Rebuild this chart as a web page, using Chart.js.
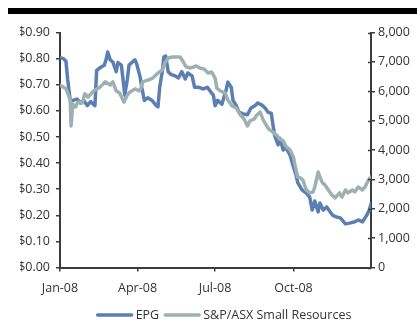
<!DOCTYPE html>
<html>
<head>
<meta charset="utf-8">
<script src="https://cdn.jsdelivr.net/npm/chart.js@4.4.1/dist/chart.umd.min.js"></script>
<style>
  html, body { margin: 0; padding: 0; background: #fff; }
  #wrap { position: relative; width: 417px; height: 320px; }
</style>
</head>
<body>
<div id="wrap"><canvas id="c" width="417" height="320"></canvas></div>
<script>
// Day of year 2008 (0 = 1 Jan) and EPG share price, A$
const epgDays = [0,4,7,9,12,15,20,24,28,32,36,41,43,47,52,54,56,59,62,66,68,72,74,76,79,81,85,88,90,94,96,99,103,108,113,115,117,120,122,124,127,130,135,139,143,147,150,155,158,163,168,173,177,180,182,185,190,195,197,201,203,207,210,215,220,224,229,232,237,241,244,248,250,252,256,258,262,265,270,274,277,279,284,289,293,296,299,303,305,309,313,317,320,325,329,335,340,346,350,355,358,360,363,365];
const epgPrice = [0.803,0.80,0.79,0.72,0.64,0.64,0.645,0.63,0.64,0.62,0.635,0.62,0.755,0.765,0.775,0.795,0.825,0.795,0.787,0.75,0.785,0.775,0.72,0.66,0.72,0.775,0.787,0.795,0.78,0.73,0.69,0.64,0.65,0.64,0.62,0.615,0.69,0.75,0.807,0.81,0.75,0.74,0.734,0.726,0.75,0.722,0.745,0.734,0.69,0.69,0.684,0.69,0.672,0.66,0.62,0.64,0.625,0.68,0.71,0.69,0.64,0.62,0.595,0.588,0.585,0.61,0.62,0.63,0.622,0.61,0.595,0.59,0.545,0.505,0.47,0.495,0.45,0.46,0.43,0.385,0.355,0.325,0.297,0.285,0.27,0.22,0.255,0.213,0.247,0.22,0.232,0.213,0.20,0.193,0.19,0.167,0.17,0.175,0.182,0.175,0.19,0.20,0.22,0.243];

// Day of year 2008 and S&P/ASX Small Resources index level
const srsDays = [0,4,7,9,12,13,15,18,21,26,29,33,38,41,47,53,59,62,66,70,75,79,82,88,93,95,97,103,109,115,120,123,127,132,136,141,144,148,153,160,164,169,174,178,182,184,188,194,197,202,207,211,216,220,223,228,231,235,238,242,245,250,255,258,262,265,270,274,277,279,282,285,289,293,297,299,303,305,308,311,315,319,323,328,331,335,338,343,346,350,355,358,362,365];
const srsIndex = [6210,6140,6080,5940,5700,4820,5570,5460,5630,5600,5910,5800,5970,6040,6140,6320,6210,6320,6010,5940,5630,5870,5970,6080,6010,6110,6320,6380,6450,6620,6720,6960,7130,7165,7165,7165,7030,6830,6790,6860,6790,6760,6620,6655,6450,6110,6010,5940,5700,5500,5430,5225,5055,4820,4990,5055,5190,5290,5055,4850,4710,4610,4480,4370,4310,4140,4000,3760,3320,3080,3050,2980,2640,2540,2570,2740,3250,3080,2880,2810,2640,2470,2370,2540,2400,2640,2540,2640,2570,2740,2640,2740,2980,3080];

// Quarter starts shown on the date axis
const quarterDays = [0, 91, 182, 274];
const quarterLabels = ['Jan-08', 'Apr-08', 'Jul-08', 'Oct-08'];

const seriesNames = ['EPG', 'S&P/ASX Small Resources'];
const seriesColors = ['#5b7fb3', '#9eb1b1'];

const FONT = '"Open Sans", "DejaVu Sans", sans-serif';
const FSIZE = 12.5;
const TEXT = '#333333';
const AXIS = '#3c3c3c';

const pts = (xs, ys) => xs.map((d, i) => ({ x: d, y: ys[i] }));

// Header rule, inner half of the right-axis ticks and the legend
const decor = {
  id: 'decor',
  beforeDraw(chart) {
    const ctx = chart.ctx;
    ctx.save();
    ctx.fillStyle = '#000';
    ctx.fillRect(8, 8, chart.width - 8, 6);
    ctx.restore();
  },
  afterDraw(chart) {
    const ctx = chart.ctx;
    const r = chart.scales.yR;
    ctx.save();
    ctx.strokeStyle = AXIS;
    ctx.lineWidth = 1.5;
    r.ticks.forEach(t => {
      const y = Math.round(r.getPixelForValue(t.value)) + 0.5;
      ctx.beginPath();
      ctx.moveTo(r.left - 3, y);
      ctx.lineTo(r.left, y);
      ctx.stroke();
    });

    // legend
    ctx.font = FSIZE + 'px ' + FONT;
    ctx.textBaseline = 'middle';
    ctx.fillStyle = TEXT;
    const lineLen = 36, gapText = 3, gapItem = 5;
    const widths = seriesNames.map(n => lineLen + gapText + ctx.measureText(n).width);
    const total = widths.reduce((a, b) => a + b, 0) + gapItem;
    let x = 224 - total / 2;
    const y = 315;
    seriesNames.forEach((n, i) => {
      ctx.strokeStyle = seriesColors[i];
      ctx.lineWidth = 3.5;
      ctx.lineCap = 'round';
      ctx.beginPath();
      ctx.moveTo(x + 1, y);
      ctx.lineTo(x + lineLen - 1, y);
      ctx.stroke();
      ctx.fillText(n, x + lineLen + gapText, y);
      x += widths[i] + gapItem;
    });
    ctx.restore();
  }
};

new Chart(document.getElementById('c'), {
  type: 'line',
  data: {
    datasets: [
      {
        label: seriesNames[0],
        data: pts(epgDays, epgPrice),
        yAxisID: 'yL',
        borderColor: seriesColors[0],
        borderWidth: 3.5,
        order: 1
      },
      {
        label: seriesNames[1],
        data: pts(srsDays, srsIndex),
        yAxisID: 'yR',
        borderColor: seriesColors[1],
        borderWidth: 3.5,
        order: 0
      }
    ]
  },
  options: {
    responsive: false,
    animation: false,
    layout: { padding: { left: 20, right: 0, top: 32.5, bottom: 0 } },
    elements: {
      point: { radius: 0 },
      line: { tension: 0, borderJoinStyle: 'round', borderCapStyle: 'round' }
    },
    plugins: { legend: { display: false }, tooltip: { enabled: false } },
    scales: {
      x: {
        type: 'linear',
        min: 0,
        max: 365,
        afterBuildTicks: s => { s.ticks = quarterDays.map(v => ({ value: v })); },
        afterFit: s => { s.height = 52.5; },
        ticks: {
          autoSkip: false,
          maxRotation: 0,
          padding: 9,
          color: TEXT,
          font: { family: FONT, size: FSIZE },
          callback: v => quarterLabels[quarterDays.indexOf(v)]
        },
        grid: { drawOnChartArea: false, drawTicks: true, tickLength: 4, color: AXIS, lineWidth: 1.5 },
        border: { display: true, color: AXIS, width: 2 }
      },
      yL: {
        position: 'left',
        min: 0,
        max: 0.9,
        afterFit: s => { s.width = 40; },
        ticks: {
          stepSize: 0.1,
          padding: 6,
          color: TEXT,
          font: { family: FONT, size: FSIZE },
          callback: v => '$' + Number(v).toFixed(2)
        },
        grid: { drawOnChartArea: false, drawTicks: true, tickLength: 4, color: AXIS, lineWidth: 1.5 },
        border: { display: true, color: AXIS, width: 2 }
      },
      yR: {
        position: 'right',
        min: 0,
        max: 8000,
        afterFit: s => { s.width = 46; },
        ticks: {
          stepSize: 1000,
          padding: 3,
          color: TEXT,
          font: { family: FONT, size: FSIZE },
          callback: v => Number(v).toLocaleString('en-US')
        },
        grid: { drawOnChartArea: false, drawTicks: true, tickLength: 4, color: AXIS, lineWidth: 1.5 },
        border: { display: true, color: AXIS, width: 2 }
      }
    }
  },
  plugins: [decor]
});
</script>
</body>
</html>
